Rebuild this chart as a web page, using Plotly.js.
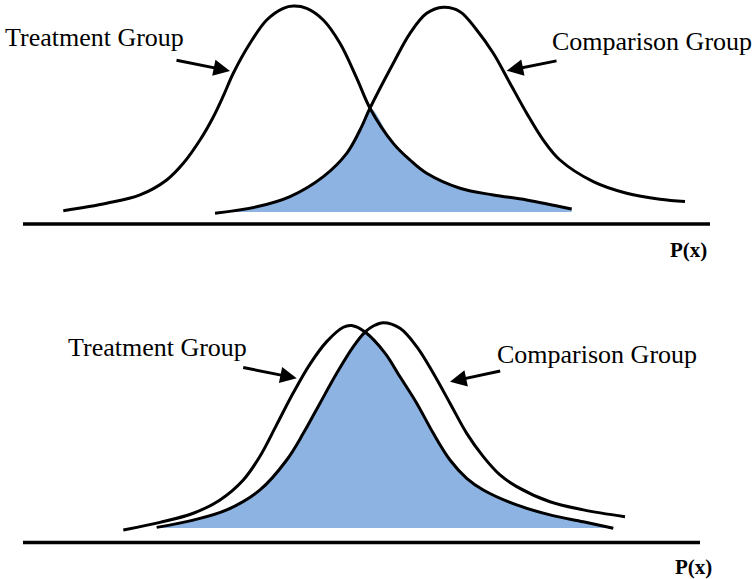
<!DOCTYPE html>
<html>
<head>
<meta charset="utf-8">
<script src="https://cdn.plot.ly/plotly-3.0.1.min.js"></script>
<style>html,body{margin:0;padding:0;background:#fff;}#chart{width:754px;height:579px;}</style>
</head>
<body>
<div id="chart"></div>
<script>
// ---- Data (x: score units, y: relative density) ----
// Top panel: little overlap
const topTreatX = [6.33, 10.67, 14.0, 16.67, 18.33, 20.0, 21.33, 22.33, 23.33, 25.0, 26.67, 28.33, 29.33, 30.67, 32.33, 34.0, 35.67, 37.0, 39.33, 41.0, 42.67, 46.0, 49.33, 52.67, 57.17];
const topTreatY = [0.006, 0.042, 0.082, 0.154, 0.234, 0.346, 0.457, 0.558, 0.667, 0.811, 0.923, 0.979, 0.990, 0.979, 0.923, 0.811, 0.644, 0.499, 0.330, 0.250, 0.186, 0.114, 0.082, 0.058, 0.014];
const topCompX = [21.5, 25.67, 29.0, 32.33, 34.67, 36.0, 37.0, 39.33, 41.0, 42.67, 44.33, 46.0, 47.67, 49.33, 51.0, 52.67, 54.33, 56.0, 59.33, 62.67, 66.0, 68.5];
const topCompY = [-0.006, 0.025, 0.074, 0.170, 0.282, 0.394, 0.499, 0.715, 0.859, 0.955, 0.984, 0.963, 0.875, 0.763, 0.619, 0.475, 0.346, 0.250, 0.146, 0.090, 0.061, 0.050];

// Bottom panel: large overlap
const botTreatX = [12.33, 16.0, 19.33, 22.0, 24.33, 26.0, 27.67, 29.33, 31.0, 32.67, 34.33, 35.17, 36.5, 38.5, 40.0, 41.67, 43.33, 45.0, 46.67, 48.33, 51.67, 55.0, 58.33, 61.33];
const botTreatY = [-0.010, 0.027, 0.071, 0.135, 0.231, 0.345, 0.497, 0.650, 0.788, 0.896, 0.965, 0.973, 0.942, 0.841, 0.727, 0.600, 0.455, 0.327, 0.239, 0.183, 0.111, 0.063, 0.030, -0.001];
const botCompX = [15.67, 19.33, 22.67, 26.0, 28.67, 30.33, 32.0, 33.67, 35.33, 36.5, 37.33, 38.33, 40.0, 41.67, 43.33, 45.0, 46.67, 48.33, 50.0, 51.67, 55.0, 58.33, 62.5];
const botCompY = [0.003, 0.038, 0.087, 0.183, 0.327, 0.455, 0.600, 0.744, 0.872, 0.942, 0.971, 0.987, 0.960, 0.872, 0.744, 0.600, 0.455, 0.343, 0.255, 0.199, 0.126, 0.087, 0.054];

const labelTreatment = "Treatment Group";
const labelComparison = "Comparison Group";
const labelAxis = "<b>P(x)</b>";

// Overlap region: comparison curve up to the shared crossing point, then treatment curve.
function overlap(cx, cy, tx, ty) {
  let xc = null;
  for (let i = 0; i < cx.length; i++) {
    const j = tx.indexOf(cx[i]);
    if (j >= 0 && ty[j] === cy[i]) { xc = cx[i]; break; }
  }
  const fx = [], fy = [];
  cx.forEach((v, i) => { if (v <= xc) { fx.push(v); fy.push(cy[i]); } });
  tx.forEach((v, i) => { if (v > xc) { fx.push(v); fy.push(ty[i]); } });
  return { fx, fy };
}
const topFill = overlap(topCompX, topCompY, topTreatX, topTreatY);
const botFill = overlap(botCompX, botCompY, botTreatX, botTreatY);

const FILL = '#8DB3E2';
const lineStyle = { color: '#000', width: 3, shape: 'spline', smoothing: 1 };

const traces = [
  { x: topFill.fx, y: topFill.fy, xaxis: 'x', yaxis: 'y', mode: 'lines', fill: 'tozeroy', fillcolor: FILL,
    line: { width: 0, shape: 'spline', smoothing: 1, color: FILL }, hoverinfo: 'skip' },
  { x: botFill.fx, y: botFill.fy, xaxis: 'x', yaxis: 'y2', mode: 'lines', fill: 'tozeroy', fillcolor: FILL,
    line: { width: 0, shape: 'spline', smoothing: 1, color: FILL }, hoverinfo: 'skip' },
  { x: topTreatX, y: topTreatY, xaxis: 'x', yaxis: 'y', mode: 'lines', line: lineStyle, name: labelTreatment },
  { x: topCompX, y: topCompY, xaxis: 'x', yaxis: 'y', mode: 'lines', line: lineStyle, name: labelComparison },
  { x: botTreatX, y: botTreatY, xaxis: 'x', yaxis: 'y2', mode: 'lines', line: lineStyle, name: labelTreatment },
  { x: botCompX, y: botCompY, xaxis: 'x', yaxis: 'y2', mode: 'lines', line: lineStyle, name: labelComparison }
];

const serif = '"Liberation Serif", "Times New Roman", serif';
const txtFont = { family: serif, size: 26, color: '#000' };
const axFont = { family: serif, size: 21, color: '#000' };

function label(text, x, y, yref, font, xanchor) {
  return { text, x, y, xref: 'x', yref, showarrow: false, font, xanchor: xanchor || 'left', yanchor: 'middle' };
}
function arrow(x, y, ax, ay, yref) {
  return { text: '', x, y, ax, ay, xref: 'x', yref, axref: 'x', ayref: yref, showarrow: true,
           arrowhead: 2, arrowsize: 1.1, arrowwidth: 3, arrowcolor: '#000', standoff: 0, startstandoff: 0 };
}

const layout = {
  width: 754, height: 579,
  margin: { l: 0, r: 0, t: 0, b: 0 },
  paper_bgcolor: '#fff', plot_bgcolor: 'rgba(0,0,0,0)',
  showlegend: false, hovermode: false,
  xaxis: { range: [0, 75.4], visible: false, fixedrange: true },
  yaxis: { domain: [0.5, 1], range: [-0.3726, 1.0192], visible: false, fixedrange: true },
  yaxis2: { domain: [0, 0.5], range: [-0.2452, 1.1466], visible: false, fixedrange: true },
  shapes: [
    { type: 'line', xref: 'x', yref: 'y', x0: 2.3, x1: 71.0, y0: -0.0577, y1: -0.0577, line: { color: '#000', width: 3.5 } },
    { type: 'line', xref: 'x', yref: 'y2', x0: 2.3, x1: 70.0, y0: -0.0697, y1: -0.0697, line: { color: '#000', width: 3.5 } }
  ],
  annotations: [
    label(labelTreatment, 0.3, 0.84, 'y', txtFont),
    label(labelComparison, 55.0, 0.82, 'y', txtFont),
    label(labelAxis, 68.85, -0.183, 'y', axFont, 'center'),
    label(labelTreatment, 6.6, 0.87, 'y2', txtFont),
    label(labelComparison, 49.5, 0.835, 'y2', txtFont),
    label(labelAxis, 69.35, -0.1875, 'y2', axFont, 'center'),
    arrow(23.0, 0.678, 17.5, 0.731, 'y'),
    arrow(50.67, 0.679, 55.8, 0.728, 'y'),
    arrow(29.67, 0.720, 24.17, 0.773, 'y2'),
    arrow(45.0, 0.703, 50.17, 0.756, 'y2')
  ]
};

Plotly.newPlot('chart', traces, layout, { staticPlot: true, displayModeBar: false });
</script>
</body>
</html>
